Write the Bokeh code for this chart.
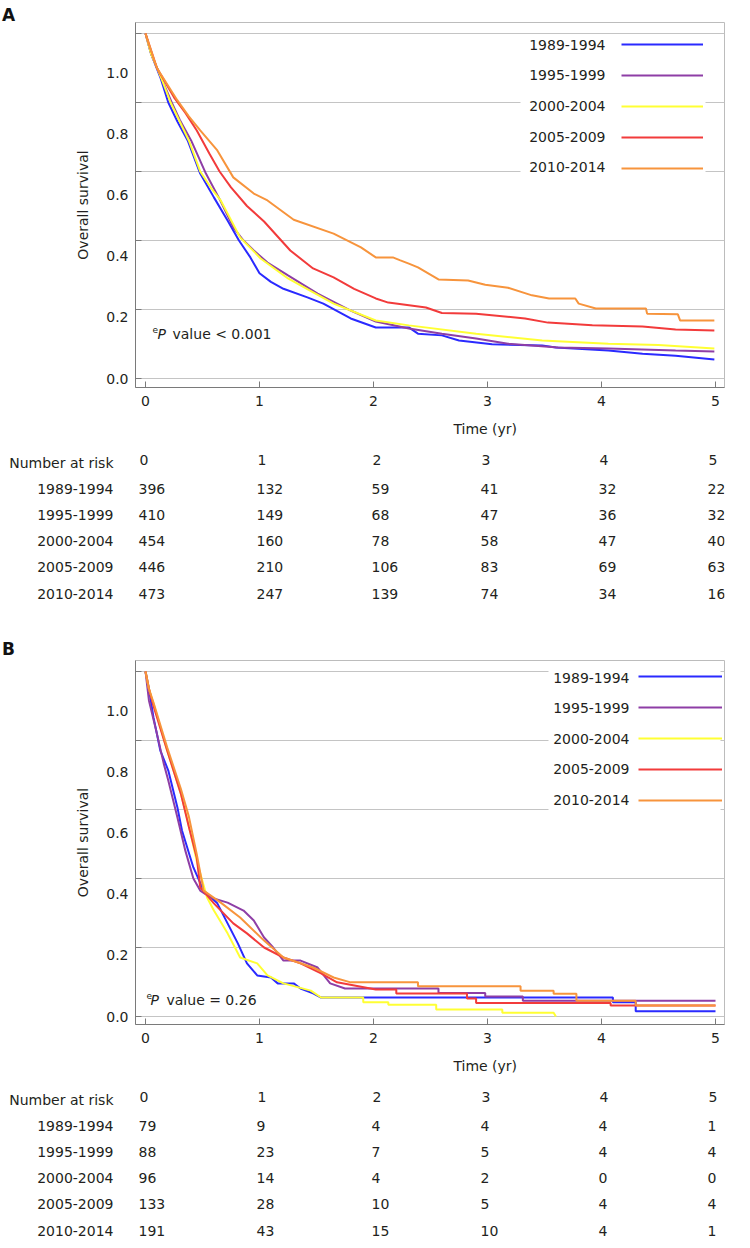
from bokeh.plotting import figure
from bokeh.models import Range1d, FixedTicker, Label, Legend, LegendItem, BoxAnnotation, Div
from bokeh.layouts import column
from bokeh.embed import file_html
from bokeh.resources import INLINE
from bokeh.core.properties import value

FONT = "DejaVu Sans"
TXT = "#231f20"

periods = ["1989-1994", "1995-1999", "2000-2004", "2005-2009", "2010-2014"]
colors = ["#2a2aff", "#8e3ea6", "#ffff33", "#f23b3b", "#f7943c"]

# ---------------- Panel A: overall survival (time in years, survival) ----------------
a_time_1989 = [0.00, 0.05, 0.13, 0.20, 0.28, 0.37, 0.48, 0.60, 0.72, 0.82, 0.92, 1.00, 1.10, 1.21, 1.42, 1.56, 1.80, 2.02, 2.31, 2.39, 2.60, 2.75, 3.04, 3.48, 3.60, 4.06, 4.36, 4.65, 4.99]
a_surv_1989 = [1.000, 0.940, 0.873, 0.800, 0.745, 0.690, 0.594, 0.525, 0.458, 0.400, 0.351, 0.305, 0.280, 0.260, 0.235, 0.217, 0.174, 0.148, 0.148, 0.130, 0.125, 0.110, 0.099, 0.096, 0.090, 0.081, 0.072, 0.066, 0.055]

a_time_1995 = [0.00, 0.05, 0.14, 0.23, 0.30, 0.40, 0.53, 0.65, 0.77, 0.86, 0.95, 1.07, 1.25, 1.51, 1.80, 2.02, 2.31, 2.60, 2.90, 3.18, 3.62, 4.06, 4.65, 4.99]
a_surv_1995 = [1.000, 0.940, 0.870, 0.800, 0.750, 0.690, 0.594, 0.520, 0.438, 0.400, 0.371, 0.336, 0.299, 0.246, 0.197, 0.165, 0.145, 0.130, 0.116, 0.101, 0.090, 0.087, 0.081, 0.078]

a_time_2000 = [0.00, 0.05, 0.14, 0.22, 0.30, 0.38, 0.48, 0.58, 0.66, 0.83, 1.01, 1.25, 1.36, 1.65, 2.02, 2.31, 2.90, 3.48, 4.06, 4.50, 4.99]
a_surv_2000 = [1.000, 0.940, 0.870, 0.800, 0.745, 0.690, 0.600, 0.550, 0.516, 0.409, 0.348, 0.290, 0.270, 0.217, 0.168, 0.154, 0.130, 0.110, 0.101, 0.097, 0.087]

a_time_2005 = [0.00, 0.10, 0.25, 0.35, 0.45, 0.56, 0.65, 0.75, 0.89, 1.04, 1.27, 1.47, 1.65, 1.83, 2.02, 2.13, 2.46, 2.60, 2.90, 3.33, 3.53, 3.92, 4.36, 4.65, 4.99]
a_surv_2005 = [1.000, 0.900, 0.815, 0.770, 0.719, 0.652, 0.600, 0.554, 0.500, 0.455, 0.371, 0.319, 0.293, 0.260, 0.232, 0.220, 0.206, 0.190, 0.188, 0.174, 0.162, 0.154, 0.151, 0.142, 0.139]

a_time_2010 = [0.00, 0.10, 0.28, 0.38, 0.48, 0.63, 0.77, 0.95, 1.07, 1.30, 1.65, 1.89, 2.02, 2.17, 2.23, 2.31, 2.39, 2.57, 2.83, 2.98, 3.18, 3.39, 3.54, 3.77, 3.80, 3.95, 4.39, 4.40, 4.67, 4.69, 4.99]
a_surv_2010 = [1.000, 0.900, 0.806, 0.760, 0.719, 0.661, 0.583, 0.536, 0.516, 0.460, 0.420, 0.380, 0.351, 0.351, 0.343, 0.333, 0.322, 0.287, 0.284, 0.272, 0.263, 0.241, 0.232, 0.232, 0.217, 0.203, 0.203, 0.188, 0.186, 0.168, 0.168]

# ---------------- Panel B ----------------
b_time_1989 = [0.00, 0.03, 0.07, 0.13, 0.20, 0.28, 0.32, 0.42, 0.51, 0.63, 0.72, 0.81, 0.89, 0.98, 1.10, 1.16, 1.30, 1.36, 1.47, 1.54, 4.10, 4.10, 4.30, 4.30, 5.00]
b_surv_1989 = [1.000, 0.950, 0.867, 0.771, 0.713, 0.606, 0.539, 0.432, 0.365, 0.328, 0.270, 0.212, 0.154, 0.119, 0.113, 0.096, 0.096, 0.081, 0.067, 0.055, 0.055, 0.041, 0.041, 0.015, 0.015]

b_time_1995 = [0.00, 0.03, 0.10, 0.16, 0.20, 0.28, 0.35, 0.42, 0.48, 0.57, 0.72, 0.86, 0.95, 1.04, 1.12, 1.21, 1.36, 1.51, 1.62, 1.75, 2.57, 2.57, 2.98, 2.98, 3.31, 3.31, 5.00]
b_surv_1995 = [1.000, 0.916, 0.820, 0.733, 0.684, 0.577, 0.480, 0.400, 0.365, 0.345, 0.330, 0.307, 0.278, 0.229, 0.200, 0.162, 0.162, 0.142, 0.096, 0.081, 0.081, 0.068, 0.068, 0.058, 0.058, 0.046, 0.046]

b_time_2000 = [0.00, 0.03, 0.07, 0.19, 0.31, 0.37, 0.45, 0.54, 0.60, 0.72, 0.83, 0.98, 1.07, 1.21, 1.45, 1.54, 1.91, 1.91, 2.13, 2.13, 2.55, 2.55, 3.13, 3.13, 3.58, 3.60]
b_surv_2000 = [1.000, 0.950, 0.907, 0.771, 0.646, 0.568, 0.450, 0.345, 0.307, 0.241, 0.171, 0.154, 0.119, 0.096, 0.075, 0.055, 0.055, 0.041, 0.041, 0.034, 0.034, 0.020, 0.020, 0.011, 0.011, 0.000]

b_time_2005 = [0.00, 0.03, 0.07, 0.19, 0.31, 0.38, 0.45, 0.48, 0.60, 0.77, 0.89, 1.04, 1.21, 1.36, 1.54, 1.68, 2.02, 2.20, 2.20, 2.82, 2.82, 2.90, 2.90, 4.08, 4.08, 5.00]
b_surv_2005 = [1.000, 0.950, 0.900, 0.771, 0.646, 0.550, 0.460, 0.374, 0.328, 0.270, 0.241, 0.200, 0.171, 0.154, 0.125, 0.099, 0.078, 0.078, 0.067, 0.067, 0.052, 0.052, 0.039, 0.039, 0.032, 0.032]

b_time_2010 = [0.00, 0.03, 0.07, 0.19, 0.31, 0.38, 0.45, 0.51, 0.66, 0.83, 1.04, 1.21, 1.47, 1.65, 1.80, 2.39, 2.39, 3.29, 3.29, 3.58, 3.58, 3.78, 3.78, 4.30, 4.30, 5.00]
b_surv_2010 = [1.000, 0.950, 0.910, 0.780, 0.660, 0.580, 0.470, 0.365, 0.330, 0.287, 0.220, 0.171, 0.142, 0.113, 0.099, 0.099, 0.088, 0.088, 0.075, 0.075, 0.066, 0.066, 0.046, 0.046, 0.032, 0.032]

# ---------------- Numbers at risk ----------------
risk_times = [0, 1, 2, 3, 4, 5]
a_risk_1989 = [396, 132, 59, 41, 32, 22]
a_risk_1995 = [410, 149, 68, 47, 36, 32]
a_risk_2000 = [454, 160, 78, 58, 47, 40]
a_risk_2005 = [446, 210, 106, 83, 69, 63]
a_risk_2010 = [473, 247, 139, 74, 34, 16]
b_risk_1989 = [79, 9, 4, 4, 4, 1]
b_risk_1995 = [88, 23, 7, 5, 4, 4]
b_risk_2000 = [96, 14, 4, 2, 0, 0]
b_risk_2005 = [133, 28, 10, 5, 4, 4]
b_risk_2010 = [191, 43, 15, 10, 4, 1]

xtick_vals = [0, 1, 2, 3, 4, 5]
ytick_vals = [0.0, 0.2, 0.4, 0.6, 0.8, 1.0]
ytick_text = ["0.0", "0.2", "0.4", "0.6", "0.8", "1.0"]

a_pvalue = "value < 0.001"
b_pvalue = "value = 0.26"
risk_header = "Number at risk"
x_title = "Time (yr)"
y_title = "Overall survival"

# ---------------- layout constants (pixels) ----------------
W = 742
PXY = 345.0       # pixels per survival unit
PXX = 114.0       # pixels per year
X0_PX = 145.0     # page x of t = 0
LABEL_SQUEEZE = 0.885   # the source figure drew its y labels compressed toward 0
PLOT_LEFT, PLOT_RIGHT = 135, 724
X_RANGE = ((PLOT_LEFT - X0_PX) / PXX, (PLOT_RIGHT - X0_PX) / PXX)
ROW = 26.2        # table row pitch
ROW0 = 45.0       # first table row below the table top
COL_SHIFT = [-7, -3, -2, -7, -3, -8]   # pixel nudge of each risk-table column


def xpx(px):
    return (px - X0_PX) / PXX


def letter_div(letter, h, line_h):
    return Div(text=letter, width=60, height=h, margin=0,
               styles={"font-family": FONT, "font-size": "17px", "font-weight": "bold",
                       "line-height": f"{line_h}px", "color": "#111111",
                       "padding-left": "2px", "overflow": "visible"})


def make_plot(curves, ptext, frame_h, y_rng, leg_loc, leg_glyph_w, leg_text_x,
              leg_row0, leg_dy, mask, p_y, p_offs):
    p = figure(width=W, height=frame_h + 30, x_range=Range1d(*X_RANGE), y_range=Range1d(*y_rng),
               output_backend="svg", toolbar_location=None, title=None,
               min_border_left=PLOT_LEFT, min_border_right=W - PLOT_RIGHT, min_border_top=0,
               min_border_bottom=30)
    p.outline_line_color = "#bcbcbc"

    p.xgrid.visible = False
    p.ygrid.ticker = FixedTicker(ticks=ytick_vals)
    p.ygrid.grid_line_color = "#c4c4c4"

    xa = p.xaxis[0]
    xa.ticker = FixedTicker(ticks=xtick_vals)
    xa.major_tick_in = 6
    xa.major_tick_out = 0
    xa.minor_tick_line_color = None
    xa.axis_line_color = "#7a7a7a"
    xa.major_tick_line_color = "#7a7a7a"
    xa.major_label_standoff = 8
    xa.major_label_text_font = FONT
    xa.major_label_text_font_size = "14px"
    xa.major_label_text_color = TXT

    lab_pos = [round(v * LABEL_SQUEEZE, 4) for v in ytick_vals]
    ya = p.yaxis[0]
    ya.ticker = FixedTicker(ticks=lab_pos, minor_ticks=ytick_vals)
    ya.major_label_overrides = {pos: txt for pos, txt in zip(lab_pos, ytick_text)}
    ya.major_tick_line_color = None
    ya.major_tick_in = 0
    ya.major_tick_out = 0
    ya.minor_tick_in = 6
    ya.minor_tick_out = 0
    ya.minor_tick_line_color = "#7a7a7a"
    ya.axis_line_color = "#7a7a7a"
    ya.major_label_standoff = 7
    ya.major_label_text_font = FONT
    ya.major_label_text_font_size = "14px"
    ya.major_label_text_color = TXT
    ya.axis_label = y_title
    ya.axis_label_text_font = FONT
    ya.axis_label_text_font_size = "14px"
    ya.axis_label_text_font_style = "normal"
    ya.axis_label_text_color = TXT
    ya.axis_label_standoff = 12

    p.add_layout(BoxAnnotation(left=mask[0], right=mask[1], bottom=mask[2], top=mask[3],
                               fill_color="white", fill_alpha=1.0, line_color=None,
                               level="underlay"))

    rends = []
    for (t, s), col in zip(curves, colors):
        rends.append(p.line(t, s, line_color=col, line_width=2))

    legend = Legend(items=[LegendItem(label=value(""), renderers=[r]) for r in rends],
                    location=leg_loc, orientation="vertical",
                    glyph_width=leg_glyph_w, glyph_height=20, spacing=11,
                    label_width=0, label_height=0, label_standoff=0,
                    label_text_font_size="1px", padding=0, margin=0,
                    border_line_color=None, background_fill_alpha=0.0)
    p.add_layout(legend)

    for k, name in enumerate(periods):
        p.add_layout(Label(x=leg_text_x, y=leg_row0 - k * leg_dy, text=name,
                           text_align="right", text_baseline="middle",
                           text_font=FONT, text_font_size="14px", text_color=TXT))

    e_off, p_off, v_off = p_offs
    p.add_layout(Label(x=0, y=p_y, x_offset=e_off, y_offset=4, text="e",
                       text_baseline="middle", text_font=FONT, text_font_size="9px",
                       text_color=TXT))
    p.add_layout(Label(x=0, y=p_y, x_offset=p_off, text="P", text_baseline="middle",
                       text_font=FONT, text_font_size="14px", text_font_style="italic",
                       text_color=TXT))
    p.add_layout(Label(x=0, y=p_y, x_offset=v_off, text=ptext, text_baseline="middle",
                       text_font=FONT, text_font_size="14px", text_color=TXT))
    return p


def make_table(risks, h):
    f = figure(width=W, height=h, x_range=Range1d(*X_RANGE),
               y_range=Range1d((h - ROW0) / ROW, -ROW0 / ROW),
               output_backend="svg", toolbar_location=None, title=None,
               x_axis_location=None, y_axis_location="left",
               min_border_left=PLOT_LEFT, min_border_right=W - PLOT_RIGHT,
               min_border_top=0, min_border_bottom=0)
    f.outline_line_color = None
    for g in f.grid:
        g.visible = False

    names = [risk_header] + periods
    rows = list(range(len(names)))
    ya = f.yaxis[0]
    ya.ticker = FixedTicker(ticks=rows)
    ya.major_label_overrides = {r: n for r, n in zip(rows, names)}
    ya.axis_line_color = None
    ya.major_tick_line_color = None
    ya.minor_tick_line_color = None
    ya.major_tick_in = 0
    ya.major_tick_out = 0
    ya.major_label_standoff = PLOT_LEFT - 113
    ya.major_label_text_font = FONT
    ya.major_label_text_font_size = "14px"
    ya.major_label_text_color = TXT

    # x-axis title of the panel above
    f.text(x=[2.98], y=[-34.0 / ROW], text=[x_title], text_align="center",
           text_baseline="middle", text_font=value(FONT), text_font_size="14px",
           text_color=TXT)

    f.text(x=risk_times, y=[0] * len(risk_times), text=[str(t) for t in risk_times],
           x_offset=[c + 1 for c in COL_SHIFT], y_offset=-3, text_align="left",
           text_baseline="middle", text_font=value(FONT), text_font_size="14px",
           text_color=TXT)
    xs, ys, ts, offs = [], [], [], []
    for k, counts in enumerate(risks):
        for t, n, c in zip(risk_times, counts, COL_SHIFT):
            xs.append(t)
            ys.append(k + 1)
            ts.append(str(n))
            offs.append(c)
    f.text(x=xs, y=ys, text=ts, x_offset=offs, text_align="left", text_baseline="middle",
           text_font=value(FONT), text_font_size="14px", text_color=TXT)
    return f


curves_a = [(a_time_1989, a_surv_1989), (a_time_1995, a_surv_1995), (a_time_2000, a_surv_2000),
            (a_time_2005, a_surv_2005), (a_time_2010, a_surv_2010)]
curves_b = [(b_time_1989, b_surv_1989), (b_time_1995, b_surv_1995), (b_time_2000, b_surv_2000),
            (b_time_2005, b_surv_2005), (b_time_2010, b_surv_2010)]
risks_a = [a_risk_1989, a_risk_1995, a_risk_2000, a_risk_2005, a_risk_2010]
risks_b = [b_risk_1989, b_risk_1995, b_risk_2000, b_risk_2005, b_risk_2010]

# page rows: A 0-22, plot A 22-417, table A 417-630, B 630-660, plot B 660-1054, table B 1054-1244
divA = letter_div("A", 22, 30)

plotA = make_plot(curves_a, a_pvalue, frame_h=365, y_rng=(-9 / PXY, 356 / PXY),
                  leg_loc=(486, 209.5), leg_glyph_w=82,
                  leg_text_x=xpx(605), leg_row0=(378 - 44.3) / PXY, leg_dy=30.6 / PXY,
                  mask=(xpx(520), xpx(705), (378 - 182) / PXY, (378 - 36) / PXY),
                  p_y=(378 - 333) / PXY, p_offs=(7, 12, 27))

tableA = make_table(risks_a, 213)

divB = letter_div("B", 30, 38)

plotB = make_plot(curves_b, b_pvalue, frame_h=364, y_rng=(-8 / PXY, 356 / PXY),
                  leg_loc=(503, 214.4), leg_glyph_w=84,
                  leg_text_x=xpx(629), leg_row0=(1016 - 677) / PXY, leg_dy=30.5 / PXY,
                  mask=(xpx(548), xpx(720), (1016 - 815) / PXY, (1016 - 662) / PXY),
                  p_y=(1016 - 999) / PXY, p_offs=(1, 5, 21))

tableB = make_table(risks_b, 190)

layout = column(divA, plotA, tableA, divB, plotB, tableB, spacing=0)
open("out.html", "w").write(file_html(layout, INLINE))
